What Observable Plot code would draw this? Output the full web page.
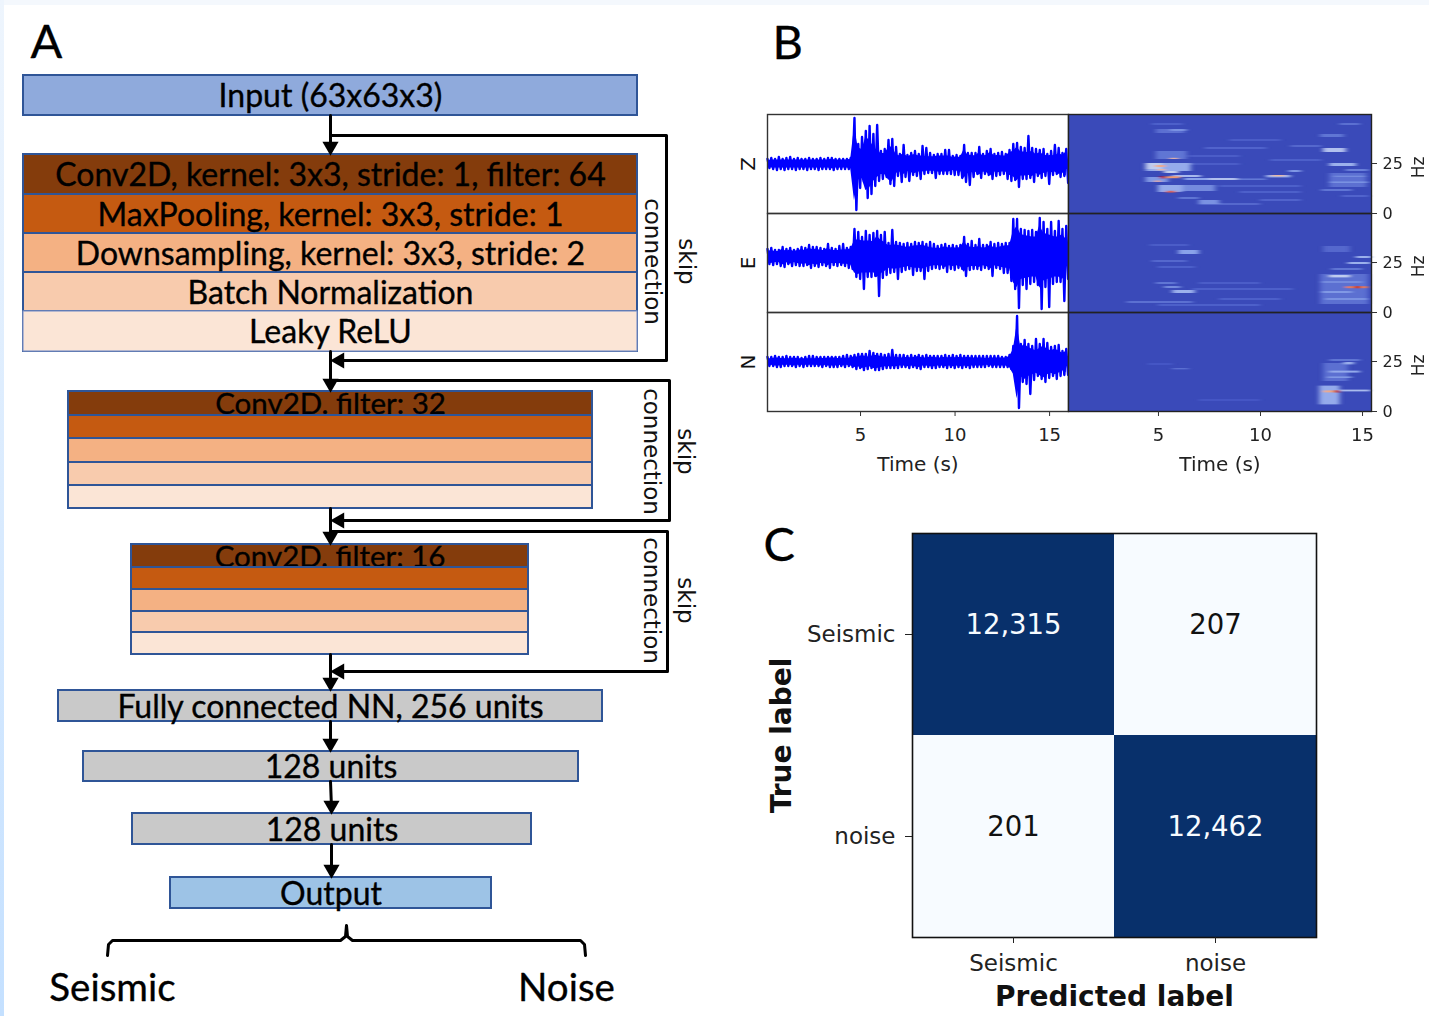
<!DOCTYPE html>
<html><head><meta charset="utf-8">
<script src="https://cdn.jsdelivr.net/npm/d3@7"></script>
<script src="https://cdn.jsdelivr.net/npm/@observablehq/plot@0.6"></script>
<style>
html,body{margin:0;padding:0;background:#fff}
#page{position:relative;width:1429px;height:1016px;overflow:hidden;background:#fff;filter:blur(0.45px)}
#top{position:absolute;left:0;top:0;width:1429px;height:5px;background:#f4f8fd}
#side{position:absolute;left:0;top:0;width:4px;height:1016px;background:linear-gradient(#eef5fd,#c4e0ff)}
#page svg{position:absolute;background:transparent}
</style></head><body>
<div id="page"><div id="top"></div><div id="side"></div></div>
<script>
// ---------- Panel A: network layers ----------
const blockLabels = ["Input (63x63x3)",
  "Conv2D, kernel: 3x3, stride: 1, filter: 64","MaxPooling, kernel: 3x3, stride: 1","Downsampling, kernel: 3x3, stride: 2","Batch Normalization","Leaky ReLU",
  "Conv2D. filter: 32","","","","",
  "Conv2D. filter: 16","","","","",
  "Fully connected NN, 256 units","128 units","128 units","Output"];
const blockKinds = ["input","conv","pool","down","norm","relu","conv","pool","down","norm","relu","conv","pool","down","norm","relu","dense","dense","dense","output"];
const blockLeft = [23,23,23,23,23,23,68,68,68,68,68,131,131,131,131,131,58,83,132,170];
const blockRight = [637,637,637,637,637,637,592,592,592,592,592,528,528,528,528,528,602,578,531,491];
const blockTop = [75,154,194,233,272,311,391,415,438,462,485,544,567,589,611,632,690,751,813,877];
const blockBottom = [115,194,233,272,311,351,415,438,462,485,508,567,589,611,632,654,721,781,844,908];
const kindNames = ["input","conv","pool","down","norm","relu","dense","output"];
const kindColors = ["#8faadc","#843c0c","#c55a11","#f4b183","#f8cbad","#fbe5d6","#c9c9c9","#9dc3e6"];
const blocks = blockLabels.map((label,i)=>({label,kind:blockKinds[i],left:blockLeft[i],right:blockRight[i],top:blockTop[i],bottom:blockBottom[i]}));

const connectorPaths = [
  [[330,115],[330,148]],
  [[330,135],[666,135],[666,360],[338,360]],
  [[330,351],[330,385]],
  [[330,380],[669,380],[669,520],[338,520]],
  [[330,508],[330,538]],
  [[330,531],[667,531],[667,671],[338,671]],
  [[330,654],[330,684]],
  [[330,721],[330,745]],
  [[330,781],[331,807]],
  [[331,844],[331,871]],
  [[107,955],[108,944],[112,940],[340,940],[345,936],[346,925],[347,936],[352,940],[580,940],[584,944],[585,955]]
];
const connectorPoints = connectorPaths.flatMap((p,path)=>p.map(([x,y])=>({path,x,y})));
const headX = [330,330,330,330,330,331,331, 339,339,339];
const headY = [146,383,536,682,743,805,869, 360,520,671];
const headTurn = [180,180,180,180,180,180,180, -90,-90,-90];
const heads = headX.map((x,i)=>({x,y:headY[i],turn:headTurn[i]}));
const skipText = ["connection","skip","connection","skip","connection","skip"];
const skipX = [652,686,651,685,651,685];
const skipY = [261,261,451,451,600,600];
const skipLabels = skipText.map((text,i)=>({text,x:skipX[i],y:skipY[i]}));
const outputNames = ["Seismic","Noise"];
const outputX = [112,566];
const outputY = [988,988];

const lato = "Lato, Carlito, sans-serif";
const isSubHeader = d=>d.kind==="conv"&&d.left>23;
const headerRows = blocks.filter(isSubHeader);
const otherRows = blocks.filter(d=>!isSubHeader(d));
const heavy = {stroke:"#000",strokeWidth:0.35,fill:"#000",fontFamily:lato};
const blockRect = (data)=>Plot.rect(data,{x1:"left",x2:"right",y1:"top",y2:"bottom",fill:"kind",stroke:"#2f5597",strokeWidth:2});
const blockText = (data,size)=>Plot.text(data,{x:d=>(d.left+d.right)/2,y:d=>(d.top+d.bottom)/2+1.5,text:"label",fontSize:size,...heavy});

const panelA = Plot.plot({
  width:720,height:1016,margin:0,
  style:{left:"0px",top:"0px",background:"transparent"},
  x:{domain:[0,720],range:[0,720],axis:null},
  y:{domain:[0,1016],range:[0,1016],axis:null},
  color:{type:"ordinal",domain:kindNames,range:kindColors},
  marks:[
    blockRect(headerRows),
    blockText(headerRows,29.5),
    blockRect(otherRows),
    Plot.rect(blocks.filter(d=>d.kind==="relu"&&d.left===23),{x1:"left",x2:"right",y1:"top",y2:"bottom",fill:"kind",stroke:"#8497c8",strokeWidth:1.2}),
    blockText(otherRows,32),
    Plot.line(connectorPoints,{x:"x",y:"y",z:"path",stroke:"#000",strokeWidth:3,strokeLinejoin:"round"}),
    Plot.dot(heads,{x:"x",y:"y",rotate:"turn",symbol:"triangle",r:6,fill:"#000",stroke:"none"}),
    Plot.text(skipLabels,{x:"x",y:"y",text:"text",rotate:90,fontSize:23,fontFamily:"DejaVu Sans",fill:"#111"}),
    Plot.text(outputNames,{x:(d,i)=>outputX[i],y:(d,i)=>outputY[i],text:d=>d,fontSize:38.5,...heavy}),
    Plot.text(["A"],{x:()=>46,y:()=>42,text:d=>d,fontSize:47,...heavy})
  ]
});

// ---------- Panel B: waveforms (envelope read per 0.2 s, px-sized units) ----------
const rowNames = ["Z","E","N"];
const waveStart = 0.08, waveStep = 0.2;
const waveBaseline = {Z:0,E:6,N:0};
const zUpper = [5,6,5,7,5,6,7,5,6,5,5,6,5,5,6,5,6,6,5,5,5,5,6,46,20,27,33,38,30,39,13,15,24,25,17,10,19,9,11,13,10,18,16,11,9,10,10,14,14,8,9,8,19,11,11,11,17,10,13,15,10,11,12,10,14,20,21,17,16,28,16,15,14,15,10,13,19,16,11,15];
const zLower = [4,5,6,5,6,5,5,6,5,5,6,5,5,6,5,5,5,6,5,5,5,5,6,46,24,18,34,30,22,17,15,13,20,22,12,18,13,17,11,12,15,10,9,9,14,10,10,10,10,11,11,14,18,21,13,10,14,10,11,15,12,11,10,15,17,16,23,15,15,14,18,12,14,12,20,11,10,13,12,19];
const eUpper = [8,9,7,7,10,8,9,7,8,10,9,12,10,10,9,8,13,9,8,11,13,9,10,28,25,20,26,22,24,26,22,25,14,27,15,14,13,14,13,15,14,15,13,15,13,11,12,13,11,12,11,12,20,13,16,12,18,12,12,15,13,14,13,14,14,38,38,28,27,26,27,25,39,35,28,35,26,36,28,31];
const eLower = [7,8,7,9,10,7,9,8,9,9,8,11,9,10,8,9,11,8,9,8,9,11,12,20,22,32,20,20,19,39,21,18,16,15,22,15,13,12,18,14,14,22,14,12,11,12,11,15,12,13,11,12,19,13,12,12,13,11,12,19,11,12,16,16,24,32,51,28,32,27,25,28,52,30,50,27,25,25,44,22];
const nUpper = [5,5,6,5,5,6,5,5,5,4,5,6,6,5,5,5,5,5,5,5,6,7,6,7,8,8,8,11,9,8,8,7,8,12,7,7,7,6,7,6,7,6,7,6,6,6,6,7,6,7,6,7,6,6,6,6,6,6,6,6,6,6,5,5,7,16,46,18,22,18,16,23,18,23,19,15,16,17,11,13];
const nLower = [4,4,5,5,4,4,4,5,4,5,4,4,4,4,5,4,5,5,5,4,5,4,5,7,6,8,7,6,8,8,7,6,6,6,6,5,5,6,5,6,7,5,5,6,6,5,5,6,5,6,5,6,5,6,5,5,5,5,4,5,5,5,5,5,7,15,46,20,22,32,18,14,17,20,16,14,17,14,13,13];
const waveUpper = {Z:zUpper,E:eUpper,N:nUpper};
const waveLower = {Z:zLower,E:eLower,N:nLower};
const waveSamples = rowNames.flatMap(row=>waveUpper[row].flatMap((u,i)=>[
  {row,t:waveStart+i*waveStep,a:waveBaseline[row]+u},
  {row,t:waveStart+(i+0.5)*waveStep,a:waveBaseline[row]-waveLower[row][i]}
]));
const waveCore = rowNames.flatMap(row=>waveUpper[row].map((u,i)=>{
  const c = Math.min(u,waveLower[row][i])*0.8;
  return {row,t:waveStart+i*waveStep,lo:waveBaseline[row]-c,hi:waveBaseline[row]+c};
}));
const timeTicks = [5,10,15];

const panelWave = Plot.plot({
  width:360,height:491,marginLeft:47,marginRight:12,marginTop:113,marginBottom:80,
  style:{left:"719.5px",top:"-0.5px",background:"transparent",overflow:"visible"},
  x:{domain:[0.08,16],axis:null},
  y:{domain:[-49.5,49.5],axis:null},
  fy:{domain:rowNames,padding:0,axis:null},
  marks:[
    Plot.areaY(waveCore,{x:"t",y1:"lo",y2:"hi",fy:"row",fill:"#0000ff"}),
    Plot.line(waveSamples,{x:"t",y:"a",fy:"row",stroke:"#0000ff",strokeWidth:2.4}),
    Plot.frame({stroke:"#333",strokeWidth:1.4}),
    Plot.text(rowNames,{fy:d=>d,text:d=>d,frameAnchor:"left",textAnchor:"middle",dx:-19,rotate:-90,fontSize:20,fontFamily:"DejaVu Sans",fill:"#111"}),
    Plot.axisX({ticks:timeTicks,anchor:"bottom",label:null,tickSize:5,tickPadding:12,fontSize:18,fontFamily:"DejaVu Sans",stroke:"#333",fill:"#222"}),
    Plot.text(["Time (s)"],{frameAnchor:"bottom",dy:59,fy:()=>"N",text:d=>d,fontSize:20,fontFamily:"DejaVu Sans",fill:"#222"}),
    Plot.text(["B"],{frameAnchor:"top-left",fy:()=>"Z",dx:5,dy:-89,text:d=>d,fontSize:47,...heavy})
  ]
});

// ---------- Panel B: spectrograms (time s, frequency Hz, level 0..1) ----------
const zStreaks = [
 [4.7,6.2,44,45,.06],[4.9,6.4,27,31,.12],[4.9,6.3,40,42,.1],[5.6,6.4,41,42,.2],[7.3,10.3,32,33,.07],[12.95,14.1,38,39.5,.12],[13.9,14.9,44,45,.1],[6.5,9,28,29,.05],[8.5,11,36,37,.05],[6,9,24,25,.05],[8,12,13,14,.06],[9,12,10,11,.06],[7,10,4,5,.08],[10,12,6,7,.07],[11.5,13,33,34,.08],[10.5,13,26,27,.06],
 [13.4,15.2,13,20,.1],[13.4,15.3,15,15.8,.2],[13.6,15.2,18,18.7,.18],[13,14.5,11,12,.12],[14.2,15.3,21,22,.15],[14,15.3,8,9,.07],
 [4.4,6.6,21,25,.28],[4.4,5.2,22,25,.4],[4.4,5.5,15.5,18,.22],[5,7.8,11,14,.18],[5,6.2,10.5,14,.28],[5.7,7.1,18,19,.33],[5.3,6,20,21,.42],
 [6.3,7.5,16.5,17.5,.25],[7.5,8.9,16.5,17.5,.36],[8.9,10.3,16.5,17.3,.13],[10.3,11.5,17.8,19,.3],[11.4,12,20.5,21.5,.22],[7,8,4.5,6.5,.2],[6,7,7,8,.12],
 [13.09,14.2,30.5,32.5,.36],[13.4,14.7,23.5,25,.3],
 [5.43,6.08,17.4,18.4,.75],[5.1,5.37,17.3,18.4,1],[4.87,5.35,23,24,.7],[4.95,5.35,21.3,22,.65],[4.87,5.1,15.5,16.3,.7],[5.4,5.85,10.2,11.1,.85],[5.6,5.95,27,27.6,.65],[10.6,11.2,18.3,19,.65]
];
const eStreaks = [
 [3.47,6.7,4.5,5.5,.1],[4.6,6.5,33,34,.05],[4.7,6.4,25,26,.08],[5,6.8,22,23,.06],[6,7,29,31,.25],[6.7,11.6,11,12,.06],[8,11,6,7,.06],[5,10,3,4,.06],[7,10,14,15,.05],
 [12.95,15.3,4,19,.1],[13.2,15.3,6,7,.2],[13,14.5,9.5,10.5,.22],[13,15,14.5,15.5,.18],[13.1,14.4,30,33,.08],[14.7,15.45,27,28,.3],[14.3,15.4,24,25,.3],[13.5,15,21,22,.12],
 [5.7,6.8,9.5,11,.3],[5.3,6.1,12,13,.18],[4.9,5.9,14,15,.12],[13.4,14.4,17.3,18.5,.4],[14.2,15.3,11.9,12.9,.8],[14.65,14.9,11.9,12.9,1]
];
const nStreaks = [
 [5.7,6.5,20.8,21.5,.1],[4.5,5.7,23,24,.03],[7,10,5,6,.03],
 [13.1,14.3,15,24,.1],[13.4,14.9,25,26,.12],[13.4,14.9,19.2,20.2,.28],[14.1,14.6,23.3,24.5,.3],[13.3,14.5,16.5,17.3,.22],
 [12.9,13.9,3.3,12.7,.28],[13.9,15.4,9.8,10.7,.34],[13.1,13.9,9.3,10.3,.7],[13.65,13.9,9.3,10.3,1]
];
const streakTable = {Z:zStreaks,E:eStreaks,N:nStreaks};
const streaks = rowNames.flatMap(row=>streakTable[row].map(([t1,t2,f1,f2,level])=>({row,t1,t2,f1,f2,level})));
const hzTicks = [0,25];

const panelSpec = Plot.plot({
  width:369,height:491,marginLeft:8,marginRight:58,marginTop:113,marginBottom:80,
  style:{left:"1059.5px",top:"-0.5px",background:"transparent",overflow:"visible"},
  x:{domain:[0.59,15.44],axis:null},
  y:{domain:[0,49.5],axis:null},
  fy:{domain:rowNames,padding:0,axis:null},
  color:{type:"linear",domain:[0,.25,.5,.75,1],range:["#3b4cc0","#8aa3ea","#e4e8f2","#f09a70","#b40426"]},
  marks:[
    Plot.frame({fill:"#3a4ab9",stroke:"none"}),
    Plot.rect(streaks,{x1:"t1",x2:"t2",y1:"f1",y2:"f2",fy:"row",fill:"level",inset:0}),
    Plot.frame({stroke:"#222",strokeWidth:1.4}),
    Plot.axisY({anchor:"right",ticks:hzTicks,label:null,tickSize:5,tickPadding:6,fontSize:16,fontFamily:"DejaVu Sans",stroke:"#333",fill:"#222",textAnchor:"start"}),
    Plot.text(rowNames,{fy:d=>d,text:()=>"Hz",y:()=>23,frameAnchor:"right",textAnchor:"middle",dx:47,rotate:-90,fontSize:17,fontFamily:"DejaVu Sans",fill:"#222"}),
    Plot.axisX({ticks:timeTicks,anchor:"bottom",label:null,tickSize:5,tickPadding:12,fontSize:18,fontFamily:"DejaVu Sans",stroke:"#333",fill:"#222"}),
    Plot.text(["Time (s)"],{frameAnchor:"bottom",dy:59,fy:()=>"N",text:d=>d,fontSize:20,fontFamily:"DejaVu Sans",fill:"#222"})
  ]
});
// soft horizontal smear on the spectrogram streaks
d3.select(panelSpec).append("defs").append("filter").attr("id","smear")
  .attr("x","-20%").attr("y","-20%").attr("width","140%").attr("height","140%")
  .append("feGaussianBlur").attr("stdDeviation","2.5 0.5");
d3.select(panelSpec).selectAll("g[aria-label='rect']").attr("filter","url(#smear)");

// ---------- Panel C: confusion matrix ----------
const classNames = ["Seismic","noise"];
const counts = [[12315,207],[201,12462]];
const matrix = classNames.flatMap((t,i)=>classNames.map((p,j)=>({truth:t,predicted:p,value:counts[i][j]})));

const panelC = Plot.plot({
  width:600,height:496,marginLeft:162,marginRight:34,marginTop:13,marginBottom:79,
  style:{left:"750px",top:"520px",background:"transparent",overflow:"visible"},
  x:{domain:classNames,padding:0},
  y:{domain:classNames,padding:0},
  color:{type:"linear",domain:[207,12315],range:["#f7fbff","#08306b"],clamp:true},
  marks:[
    Plot.cell(matrix,{x:"predicted",y:"truth",fill:"value",inset:0}),
    Plot.text(matrix,{x:"predicted",y:"truth",text:d=>d3.format(",")(d.value),dy:-9.5,fontSize:27.5,fontFamily:"DejaVu Sans",fill:d=>d.value>6000?"#f7fbff":"#111"}),
    Plot.frame({stroke:"#111",strokeWidth:1.6}),
    Plot.axisX({anchor:"bottom",label:null,tickSize:6,tickPadding:11,fontSize:23,fontFamily:"DejaVu Sans",stroke:"#222",fill:"#222"}),
    Plot.axisY({anchor:"left",label:null,tickSize:7,tickPadding:10,fontSize:23,fontFamily:"DejaVu Sans",stroke:"#222",fill:"#222"}),
    Plot.text(["Predicted label"],{frameAnchor:"bottom",dy:68,text:d=>d,fontSize:28,fontWeight:"bold",fontFamily:"DejaVu Sans",fill:"#111"}),
    Plot.text(["True label"],{frameAnchor:"left",textAnchor:"middle",dx:-130,rotate:-90,text:d=>d,fontSize:28,fontWeight:"bold",fontFamily:"DejaVu Sans",fill:"#111"}),
    Plot.text(["C"],{frameAnchor:"top-left",dx:-149,dy:-6,text:d=>d,fontSize:47,...heavy})
  ]
});

const page = document.getElementById("page");
[panelA,panelWave,panelSpec,panelC].forEach(p=>page.appendChild(p));
</script>
</body></html>
